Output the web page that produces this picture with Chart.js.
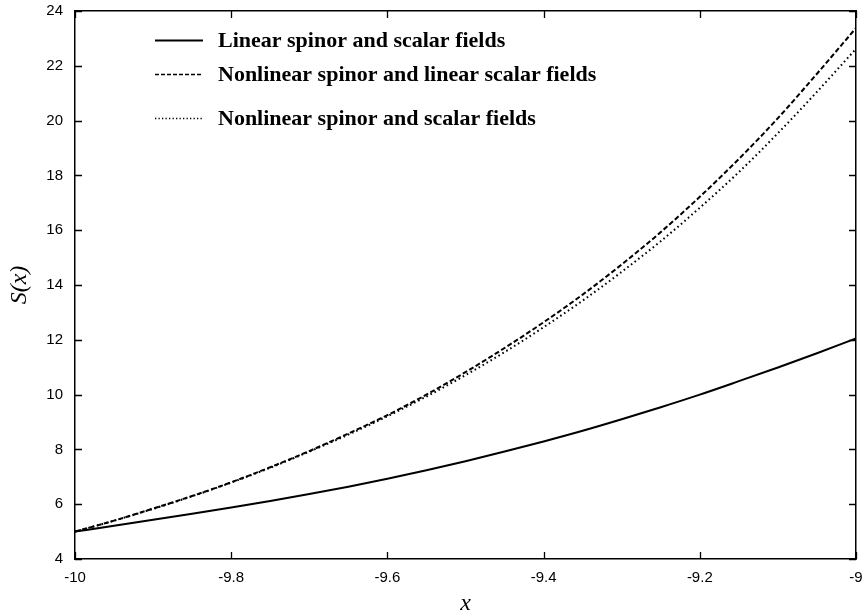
<!DOCTYPE html>
<html>
<head>
<meta charset="utf-8">
<title>S(x)</title>
<script src="https://cdn.jsdelivr.net/npm/chart.js@4.4.1/dist/chart.umd.min.js"></script>
<style>
    html, body { margin: 0; padding: 0; background: #fff; }
    #wrap { width: 864px; height: 616px; }
</style>
</head>
<body>
<div id="wrap"><canvas id="sChart" width="864" height="616"></canvas></div>
<script>
// values, every 0.05 in x
const xValues = [-10, -9.95, -9.9, -9.85, -9.8, -9.75, -9.7, -9.65, -9.6, -9.55, -9.5,
                 -9.45, -9.4, -9.35, -9.3, -9.25, -9.2, -9.15, -9.1, -9.05, -9];
const linearFields = [5.00, 5.21, 5.43, 5.65, 5.88, 6.12, 6.37, 6.64, 6.93, 7.24, 7.57,
                      7.92, 8.29, 8.68, 9.10, 9.54, 10.00, 10.49, 10.99, 11.51, 12.05];
const nonlinSpinor = [5.00, 5.40, 5.84, 6.30, 6.80, 7.35, 7.94, 8.58, 9.25, 10.00, 10.82,
                      11.70, 12.64, 13.65, 14.75, 15.93, 17.22, 18.60, 20.09, 21.71, 23.38];
const nonlinBoth = [5.00, 5.40, 5.83, 6.29, 6.79, 7.33, 7.92, 8.54, 9.21, 9.93, 10.71,
                    11.55, 12.46, 13.43, 14.48, 15.60, 16.82, 18.12, 19.54, 21.05, 22.62];
const seriesLabels = [
    'Linear spinor and scalar fields',
    'Nonlinear spinor and linear scalar fields',
    'Nonlinear spinor and scalar fields'
];
const xTicks = [-10, -9.8, -9.6, -9.4, -9.2, -9];
const yTicks = [4, 6, 8, 10, 12, 14, 16, 18, 20, 22, 24];

function toPoints(ys) {
    return xValues.map((x, i) => ({ x: x, y: ys[i] }));
}

// gnuplot style: ticks pointing inwards on all four sides
const inwardTicks = {
    id: 'inwardTicks',
    afterDatasetsDraw(chart) {
        const ctx = chart.ctx;
        const a = chart.chartArea;
        const len = 7;
        ctx.save();
        ctx.strokeStyle = '#000';
        ctx.lineWidth = 1.3;
        ctx.beginPath();
        xTicks.forEach(v => {
            const px = Math.round(chart.scales.x.getPixelForValue(v)) + 0.5;
            ctx.moveTo(px, a.bottom); ctx.lineTo(px, a.bottom - len);
            ctx.moveTo(px, a.top); ctx.lineTo(px, a.top + len);
        });
        yTicks.forEach(v => {
            const py = Math.round(chart.scales.y.getPixelForValue(v)) + 0.5;
            ctx.moveTo(a.left, py); ctx.lineTo(a.left + len, py);
            ctx.moveTo(a.right, py); ctx.lineTo(a.right - len, py);
        });
        ctx.stroke();
        ctx.restore();
    }
};

// key sits inside the plot, top left
const insideLegend = {
    id: 'insideLegend',
    afterDraw(chart) {
        const ctx = chart.ctx;
        const rows = [40, 74, 118];
        const sampleDash = [[], [4, 2], [1.3, 2.2]];
        ctx.save();
        ctx.font = 'bold 22px "Liberation Serif", "DejaVu Serif", serif';
        ctx.textBaseline = 'middle';
        ctx.fillStyle = '#000';
        ctx.strokeStyle = '#000';
        chart.data.datasets.forEach((ds, i) => {
            const y = rows[i] + 0.5;
            ctx.beginPath();
            ctx.setLineDash(sampleDash[i]);
            ctx.lineWidth = i === 0 ? 2 : 1.4;
            ctx.moveTo(155, y);
            ctx.lineTo(203, y);
            ctx.stroke();
            ctx.setLineDash([]);
            ctx.fillText(ds.label, 218, rows[i] + 1);
        });
        ctx.restore();
    }
};

const tickFont = { family: '"Liberation Sans", Arial, sans-serif', size: 15 };
const titleFont = { family: '"Liberation Serif", "DejaVu Serif", serif', size: 24, style: 'italic', lineHeight: 1 };

function noOverhangX(scale, h) {
    scale.height = h;
    scale.paddingLeft = 0;
    scale.paddingRight = 0;
}
function noOverhangY(scale, w) {
    scale.width = w;
    scale.paddingTop = 0;
    scale.paddingBottom = 0;
}

const ctx = document.getElementById('sChart').getContext('2d');
const sChart = new Chart(ctx, {
    type: 'line',
    data: {
        datasets: [{
            label: seriesLabels[0],
            data: toPoints(linearFields),
            borderColor: '#000',
            borderWidth: 2,
            pointRadius: 0,
            cubicInterpolationMode: 'monotone'
        }, {
            label: seriesLabels[1],
            data: toPoints(nonlinSpinor),
            borderColor: '#000',
            borderWidth: 2,
            borderDash: [5, 2.5],
            pointRadius: 0,
            cubicInterpolationMode: 'monotone'
        }, {
            label: seriesLabels[2],
            data: toPoints(nonlinBoth),
            borderColor: '#000',
            borderWidth: 2,
            borderDash: [1.6, 3],
            pointRadius: 0,
            cubicInterpolationMode: 'monotone'
        }]
    },
    options: {
        responsive: false,
        animation: false,
        devicePixelRatio: 1,
        layout: { padding: 0 },
        plugins: {
            legend: { display: false },
            tooltip: { enabled: false }
        },
        scales: {
            x: {
                type: 'linear',
                position: 'bottom',
                min: -10,
                max: -9,
                afterBuildTicks: scale => { scale.ticks = xTicks.map(v => ({ value: v })); },
                afterFit: scale => noOverhangX(scale, 57),
                ticks: {
                    color: '#000',
                    font: tickFont,
                    padding: 10,
                    maxRotation: 0,
                    autoSkip: false,
                    callback: v => String(Number(v.toFixed(1)))
                },
                grid: { drawOnChartArea: false, drawTicks: false },
                border: { display: true, color: '#000', width: 1.5 },
                title: { display: true, text: 'x', color: '#000', font: titleFont, padding: { top: 0, bottom: 0 } }
            },
            xTop: {
                type: 'linear',
                position: 'top',
                min: -10,
                max: -9,
                afterFit: scale => noOverhangX(scale, 11),
                ticks: { display: false },
                grid: { drawOnChartArea: false, drawTicks: false },
                border: { display: true, color: '#000', width: 1.5 }
            },
            y: {
                type: 'linear',
                position: 'left',
                min: 4,
                max: 24,
                afterBuildTicks: scale => { scale.ticks = yTicks.map(v => ({ value: v })); },
                afterFit: scale => noOverhangY(scale, 75),
                ticks: { color: '#000', font: tickFont, padding: 12 },
                grid: { drawOnChartArea: false, drawTicks: false },
                border: { display: true, color: '#000', width: 1.5 },
                title: { display: true, text: 'S(x)', color: '#000', font: titleFont, padding: { top: 8, bottom: 0 } }
            },
            yRight: {
                type: 'linear',
                position: 'right',
                min: 4,
                max: 24,
                afterFit: scale => noOverhangY(scale, 8),
                ticks: { display: false },
                grid: { drawOnChartArea: false, drawTicks: false },
                border: { display: true, color: '#000', width: 1.5 }
            }
        }
    },
    plugins: [inwardTicks, insideLegend]
});
</script>
</body>
</html>
